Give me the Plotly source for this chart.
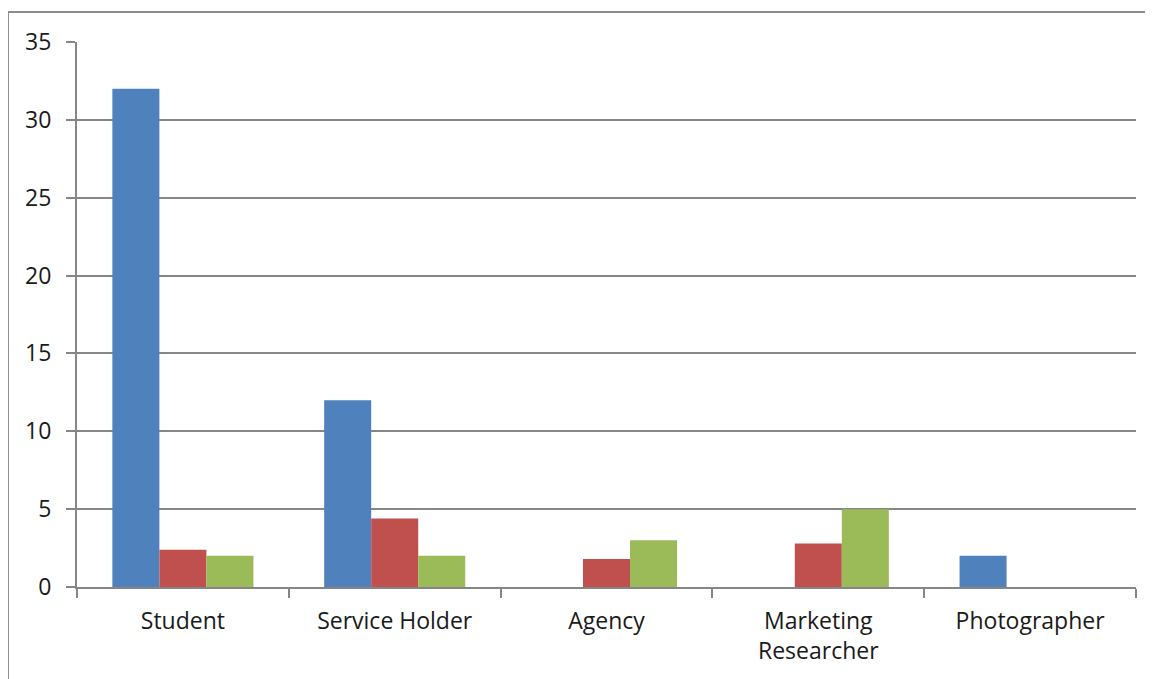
import plotly.graph_objects as go

# data
categories = ["Student", "Service Holder", "Agency", "Marketing<br>Researcher", "Photographer"]
series_blue = [32, 12, None, None, 2]
series_red = [2.4, 4.4, 1.8, 2.8, None]
series_green = [2, 2, 3, 5, None]

colors = ["#4F81BD", "#C0504D", "#9BBB59"]
grey = "#868686"

fig = go.Figure()
for name, vals, col in zip(["Series 1", "Series 2", "Series 3"],
                           [series_blue, series_red, series_green], colors):
    fig.add_trace(go.Bar(x=categories, y=vals, name=name,
                         marker=dict(color=col, line=dict(width=0))))

# chart-area border (only top/left visible in the reference)
fig.add_shape(type="rect", xref="paper", yref="paper",
              x0=-0.0652, x1=1.2, y0=-0.4, y1=1.055,
              line=dict(color="#8c8c8c", width=2), layer="below")

# page body has an 8px margin, so the figure is a bit smaller than the window
fig.update_layout(
    width=1145, height=671,
    margin=dict(l=69, r=17, t=34, b=92),
    barmode="group", bargap=0.334, bargroupgap=0,
    showlegend=False,
    plot_bgcolor="white", paper_bgcolor="white",
    font=dict(family="Open Sans, sans-serif", size=23, color="#1a1a1a"),
    xaxis=dict(showline=True, linecolor=grey, linewidth=2,
               ticks="outside", ticklen=9, tickcolor=grey, tickwidth=2,
               tickson="boundaries", ticklabelstandoff=12,
               showgrid=False),
    yaxis=dict(range=[0, 35], dtick=5, showline=True, linecolor=grey, linewidth=2,
               ticks="outside", ticklen=9, tickcolor=grey, tickwidth=2,
               ticklabelstandoff=10,
               showgrid=True, gridcolor=grey, gridwidth=2,
               zeroline=False),
)

fig.write_html("out.html")
